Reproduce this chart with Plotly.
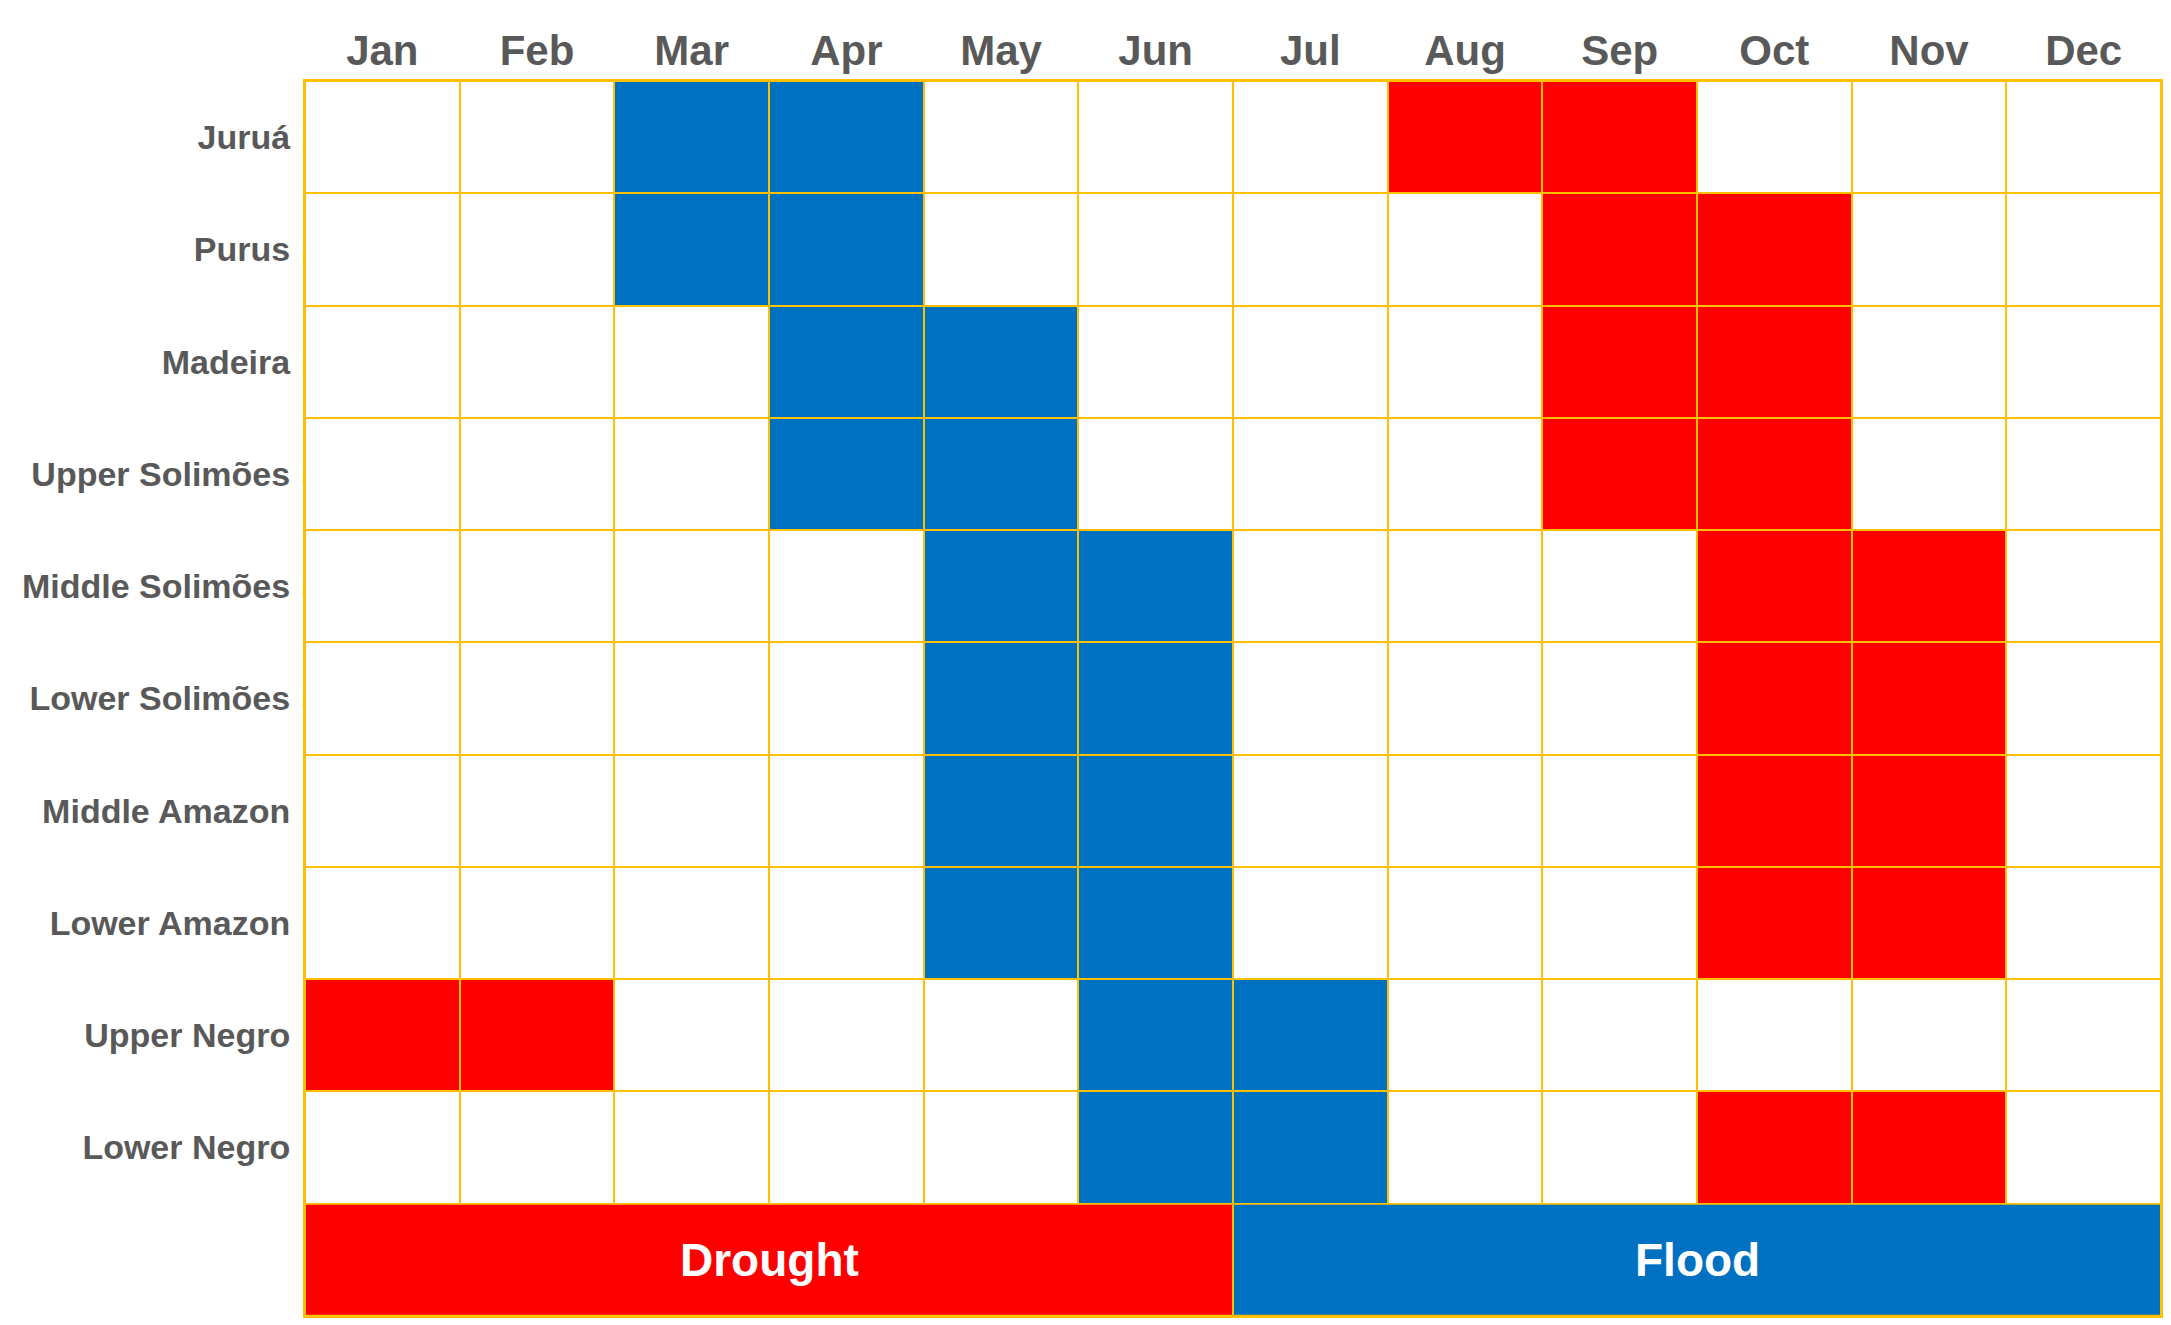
import plotly.graph_objects as go

months = ["Jan", "Feb", "Mar", "Apr", "May", "Jun", "Jul", "Aug", "Sep", "Oct", "Nov", "Dec"]
regions = ["Juruá", "Purus", "Madeira", "Upper Solimões", "Middle Solimões",
           "Lower Solimões", "Middle Amazon", "Lower Amazon", "Upper Negro", "Lower Negro"]
flood_months = [["Mar", "Apr"], ["Mar", "Apr"], ["Apr", "May"], ["Apr", "May"], ["May", "Jun"],
                ["May", "Jun"], ["May", "Jun"], ["May", "Jun"], ["Jun", "Jul"], ["Jun", "Jul"]]
drought_months = [["Aug", "Sep"], ["Sep", "Oct"], ["Sep", "Oct"], ["Sep", "Oct"], ["Oct", "Nov"],
                  ["Oct", "Nov"], ["Oct", "Nov"], ["Oct", "Nov"], ["Jan", "Feb"], ["Oct", "Nov"]]
legend_labels = ["Drought", "Flood"]
legend_spans = [("Jan", "Jun"), ("Jul", "Dec")]

BLUE = "#0070C0"
RED = "#FF0000"
GOLD = "#FFC000"
GREY = "#595959"

z = []
for fl, dr in zip(flood_months, drought_months):
    row = []
    for m in months:
        row.append(1 if m in fl else (2 if m in dr else 0))
    z.append(row)

cscale = [[0, "white"], [0.25, "white"], [0.25, BLUE], [0.75, BLUE], [0.75, RED], [1, RED]]

fig = go.Figure()
fig.add_trace(go.Heatmap(
    z=z, x=list(range(len(months))), y=list(range(len(regions))),
    colorscale=cscale, zmin=0, zmax=2, showscale=False,
    xgap=2, ygap=2, hoverinfo="skip"))

# legend row (merged cells)
edges = [months.index(legend_spans[0][0]) - 0.5]
for s, e in legend_spans:
    edges.append(months.index(e) + 0.5)
leg_row = len(regions)
leg_z = [[2 if lab == "Drought" else 1 for lab in legend_labels]]
fig.add_trace(go.Heatmap(
    z=leg_z, x=edges, y=[leg_row - 0.5, leg_row + 0.5],
    colorscale=cscale, zmin=0, zmax=2, showscale=False,
    xgap=2, ygap=2, hoverinfo="skip"))

for lab, (s, e) in zip(legend_labels, legend_spans):
    xc = (months.index(s) + months.index(e)) / 2
    fig.add_annotation(x=xc, y=leg_row, text=lab, showarrow=False,
                       font=dict(family="Liberation Sans, Arial", size=46, color="white", weight="bold"))

fig.update_layout(
    width=2163, height=1317,
    margin=dict(l=297, r=10, t=73, b=7),
    plot_bgcolor=GOLD, paper_bgcolor="white",
    showlegend=False,
    font=dict(family="Liberation Sans, Arial", color=GREY),
)
fig.update_xaxes(
    range=[-0.5, len(months) - 0.5], side="top",
    tickvals=list(range(len(months))), ticktext=months,
    tickfont=dict(size=42, color=GREY, weight="bold"),
    showgrid=False, zeroline=False, ticks="", ticklabelstandoff=-3,
    showline=True, linecolor=GOLD, linewidth=2, mirror=True,
)
fig.update_yaxes(
    range=[leg_row + 0.5, -0.5],
    tickvals=list(range(len(regions))), ticktext=regions,
    tickfont=dict(size=34, color=GREY, weight="bold"),
    showgrid=False, zeroline=False, ticks="", ticklabelstandoff=6,
    showline=True, linecolor=GOLD, linewidth=2, mirror=True,
)

fig.write_html("out.html")
